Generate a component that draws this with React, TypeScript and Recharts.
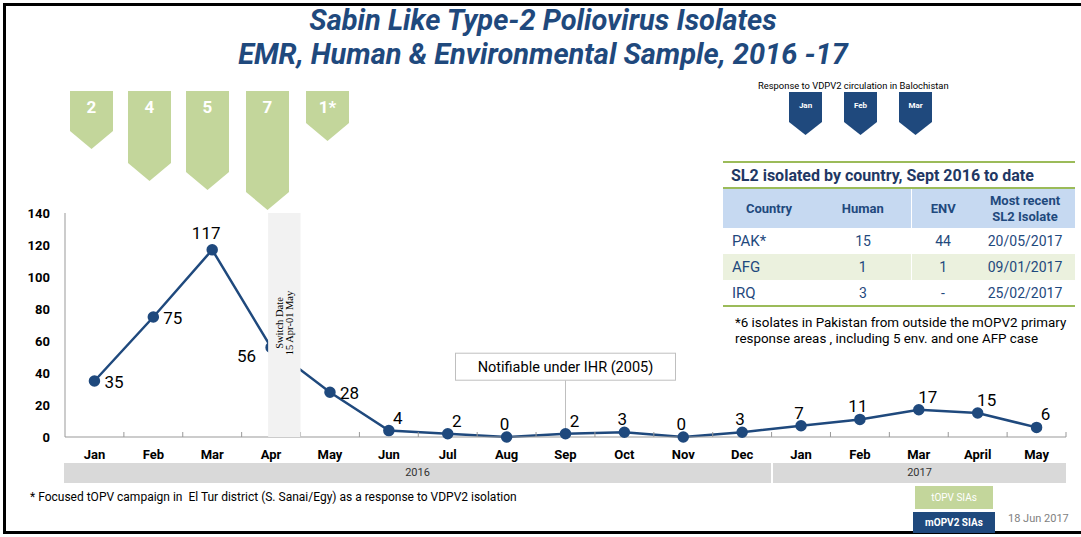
import React from 'react';
import {
  LineChart, Line, XAxis, YAxis, ReferenceArea, ReferenceLine, LabelList,
} from 'recharts';

const months = ['Jan', 'Feb', 'Mar', 'Apr', 'May', 'Jun', 'Jul', 'Aug', 'Sep', 'Oct', 'Nov', 'Dec',
  'Jan', 'Feb', 'Mar', 'April', 'May'];
const isolates = [35, 75, 117, 56, 28, 4, 2, 0, 2, 3, 0, 3, 7, 11, 17, 15, 6];
const yTicks = [0, 20, 40, 60, 80, 100, 120, 140];
const labelSides = ['right', 'right', 'top', 'left', 'right', 'topRight', 'topRight', 'top', 'topRight',
  'top', 'top', 'top', 'top', 'top', 'topRight', 'topRight', 'topRight'];
const years = ['2016', '2017'];
const topvRounds = ['2', '4', '5', '7', '1*'];
const mopv2Rounds = ['Jan', 'Feb', 'Mar'];
const tableHead = ['Country', 'Human', 'ENV', 'Most recent SL2 Isolate'];
const countries = ['PAK*', 'AFG', 'IRQ'];
const humanCounts = ['15', '1', '3'];
const envCounts = ['44', '1', '-'];
const lastIsolate = ['20/05/2017', '09/01/2017', '25/02/2017'];

const NAVY = '#1F497D';
const GREEN = '#C3D69B';
const FONT = 'Roboto, "Liberation Sans", sans-serif';

// tOPV arrow sizes (style only)
const topvBoxes = [
  { left: 70, h: 58 }, { left: 128, h: 90 }, { left: 186, h: 99 }, { left: 246, h: 119 }, { left: 306, h: 50 },
];
const mopvLefts = [789, 844, 899];

const data = months.map((m, i) => ({ i, m, v: isolates[i] }));
const xTicks = months.flatMap((_, i) => [i, i + 0.5]);
const MARGIN = { top: 213, right: 15, bottom: 70, left: 20 };

const XTick = (p: any) => {
  const v = p.payload.value;
  if (!Number.isInteger(v)) {
    return <line x1={p.x} x2={p.x} y1={p.y - 5} y2={p.y} stroke="#999" />;
  }
  return (
    <text x={p.x} y={p.y + 22} textAnchor="middle" fontSize={13} fontWeight="bold" fill="#000" fontFamily={FONT}>
      {months[v]}
    </text>
  );
};

const ValueLabel = (p: any) => {
  const side = labelSides[p.index];
  let dx = -2, dy = -7, anchor = 'middle';
  if (side === 'right') { dx = 10; dy = 7; anchor = 'start'; }
  if (side === 'left') { dx = -15; dy = 15; anchor = 'end'; }
  if (side === 'topRight') { dx = 9; }
  if (p.index === 2) { dx = -6; dy = -11; }
  return (
    <text x={p.x + dx} y={p.y + dy} textAnchor={anchor} fontSize={17} fill="#000" fontFamily={FONT}>
      {p.value}
    </text>
  );
};

const SwitchLabel = (p: any) => {
  const vb = p.viewBox;
  const cx = vb.x + vb.width / 2 - 1;
  const cy = vb.y + 110;
  return (
    <text transform={`rotate(-90 ${cx} ${cy})`} x={cx} y={cy} textAnchor="middle"
      fontSize={10.5} fill="#000" fontFamily='"Liberation Serif", serif'>
      <tspan x={cx} y={cy}>Switch Date</tspan>
      <tspan x={cx} dy={10}>15 Apr-01 May</tspan>
    </text>
  );
};

const IhrLabel = (p: any) => {
  const vb = p.viewBox;
  return (
    <g>
      <rect x={vb.x - 110} y={vb.y - 27} width={220} height={27} fill="#fff" stroke="#BFBFBF" />
      <text x={vb.x} y={vb.y - 8} textAnchor="middle" fontSize={14.5} fill="#000" fontFamily={FONT}>
        Notifiable under IHR (2005)
      </text>
    </g>
  );
};

const arrowClip = (tip: number) =>
  `polygon(0 0, 100% 0, 100% calc(100% - ${tip}px), 50% 100%, 0 calc(100% - ${tip}px))`;

const abs = (s: React.CSSProperties): React.CSSProperties => ({ position: 'absolute', ...s });

export default function App() {
  return (
    <div style={abs({ left: 0, top: 0, width: 1081, height: 537, background: '#fff', fontFamily: FONT, overflow: 'hidden' })}>
      <div style={abs({ left: 3, top: 3, width: 1078, height: 525, borderTop: '3px solid #000', borderLeft: '3px solid #000', borderBottom: '3px solid #000' })} />

      <div style={abs({ left: 0, top: 3, width: 1086, textAlign: 'center', color: NAVY, fontWeight: 'bold', fontStyle: 'italic', fontSize: 29, lineHeight: '34px' })}>
        Sabin Like Type-2 Poliovirus Isolates<br />EMR, Human &amp; Environmental Sample, 2016 -17
      </div>

      <div style={abs({ left: 0, top: 0 })}>
        <LineChart width={1081} height={537} data={data} margin={MARGIN}>
          <XAxis dataKey="i" type="number" domain={[-0.5, 16.5]} ticks={xTicks} interval={0}
            tickLine={false} tickSize={0} tickMargin={0} axisLine={{ stroke: '#999' }} height={30} tick={<XTick />} />
          <YAxis domain={[0, 140]} ticks={yTicks} width={45} tickLine={false} tickSize={0} tickMargin={15}
            axisLine={{ stroke: '#999' }}
            tick={{ fontSize: 13, fontWeight: 'bold', fill: '#000', fontFamily: FONT }} />
          <ReferenceLine segment={[{ x: 8, y: 2 }, { x: 8, y: 35.5 }]} stroke="#BFBFBF" label={<IhrLabel />} />
          <Line dataKey="v" stroke={NAVY} strokeWidth={2.5} isAnimationActive={false}
            dot={{ r: 4.5, fill: NAVY, stroke: NAVY }}>
            <LabelList dataKey="v" content={<ValueLabel />} />
          </Line>
        </LineChart>
      </div>

      {/* switch-date band sits on top of the line */}
      <div style={abs({ left: 0, top: 0, pointerEvents: 'none' })}>
        <LineChart width={1081} height={537} data={data} margin={MARGIN}>
          <XAxis dataKey="i" type="number" domain={[-0.5, 16.5]} ticks={xTicks} height={30} tick={false} tickLine={false} axisLine={false} />
          <YAxis domain={[0, 140]} ticks={yTicks} width={45} tick={false} tickLine={false} axisLine={false} />
          <Line dataKey="v" stroke="none" dot={false} activeDot={false} isAnimationActive={false} />
          <ReferenceArea x1={2.95} x2={3.5} y1={0} y2={140} fill="#F2F2F2" fillOpacity={1} stroke="none"
            ifOverflow="visible" label={<SwitchLabel />} />
        </LineChart>
      </div>

      {topvBoxes.map((b, i) => (
        <div key={i} style={abs({ left: b.left, top: 91, width: 43, height: b.h, background: GREEN, clipPath: arrowClip(18), color: '#fff', fontWeight: 'bold', fontSize: 17, textAlign: 'center', lineHeight: '32px' })}>
          {topvRounds[i]}
        </div>
      ))}

      <div style={abs({ left: 758, top: 80, fontSize: 9.4, color: '#000', whiteSpace: 'nowrap' })}>
        Response to VDPV2 circulation in Balochistan
      </div>
      {mopvLefts.map((l, i) => (
        <div key={i} style={abs({ left: l, top: 92, width: 33, height: 43, background: NAVY, clipPath: arrowClip(13), color: '#fff', fontWeight: 'bold', fontSize: 8, textAlign: 'center', lineHeight: '28px' })}>
          {mopv2Rounds[i]}
        </div>
      ))}

      <div style={abs({ left: 723, top: 161, width: 352, borderTop: '2px solid #9BBB59' })} />
      <div style={abs({ left: 731, top: 166, fontSize: 16, fontWeight: 'bold', color: '#1F3864', whiteSpace: 'nowrap' })}>
        SL2 isolated by country, Sept 2016 to date
      </div>
      <table style={abs({ left: 723, top: 187, width: 352, borderCollapse: 'collapse', tableLayout: 'fixed', color: NAVY, borderTop: '2px solid #9BBB59', borderBottom: '2px solid #9BBB59' })}>
        <colgroup>
          <col style={{ width: 92 }} /><col style={{ width: 96 }} /><col style={{ width: 64 }} /><col style={{ width: 100 }} />
        </colgroup>
        <thead>
          <tr style={{ background: '#C6D9F1', height: 40 }}>
            {tableHead.map((h, i) => (
              <th key={h} style={{ fontSize: 13, fontWeight: 'bold', padding: 0, lineHeight: '16px', textAlign: 'center', borderLeft: i === 2 ? '1px solid #fff' : 'none' }}>
                {i === 3 ? <>Most recent<br />SL2 Isolate</> : h}
              </th>
            ))}
          </tr>
        </thead>
        <tbody>
          {countries.map((c, r) => (
            <tr key={c} style={{ height: 26, background: r === 1 ? '#EBF1DE' : '#fff', fontSize: 14 }}>
              <td style={{ padding: '0 0 0 9px', textAlign: 'left', fontSize: 15 }}>{c}</td>
              <td style={{ padding: 0, textAlign: 'center' }}>{humanCounts[r]}</td>
              <td style={{ padding: 0, textAlign: 'center', borderLeft: r === 1 ? '1px solid #fff' : 'none' }}>{envCounts[r]}</td>
              <td style={{ padding: 0, textAlign: 'center' }}>{lastIsolate[r]}</td>
            </tr>
          ))}
        </tbody>
      </table>
      <div style={abs({ left: 735, top: 315, fontSize: 13.4, lineHeight: '16px', color: '#000', whiteSpace: 'nowrap' })}>
        *6 isolates in Pakistan from outside the mOPV2 primary<br />response areas , including 5 env. and one AFP case
      </div>

      <div style={abs({ left: 64, top: 463, width: 707, height: 20, background: '#D9D9D9', fontSize: 11, lineHeight: '20px', textAlign: 'center', color: '#333' })}>{years[0]}</div>
      <div style={abs({ left: 773, top: 463, width: 293, height: 20, background: '#D9D9D9', fontSize: 11, lineHeight: '20px', textAlign: 'center', color: '#333' })}>{years[1]}</div>

      <div style={abs({ left: 30, top: 490, fontSize: 12, color: '#000', whiteSpace: 'pre' })}>
        * Focused tOPV campaign in  El Tur district (S. Sanai/Egy) as a response to VDPV2 isolation
      </div>

      <div style={abs({ left: 915, top: 486, width: 78, height: 23, background: GREEN, color: '#fff', fontSize: 10, lineHeight: '23px', textAlign: 'center' })}>tOPV SIAs</div>
      <div style={abs({ left: 913, top: 512, width: 82, height: 21, background: NAVY, color: '#fff', fontSize: 10, fontWeight: 'bold', lineHeight: '21px', textAlign: 'center' })}>mOPV2 SIAs</div>
      <div style={abs({ left: 1008, top: 512, fontSize: 11, color: '#7F7F7F', whiteSpace: 'nowrap' })}>18 Jun 2017</div>
    </div>
  );
}
